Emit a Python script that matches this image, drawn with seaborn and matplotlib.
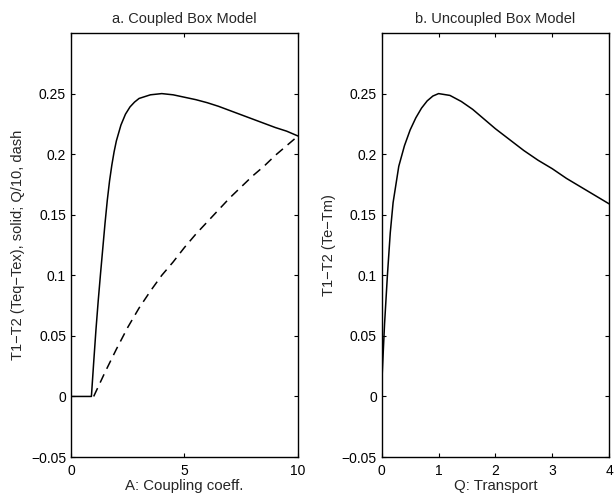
import numpy as np
import pandas as pd
import matplotlib
matplotlib.use("Agg")
import matplotlib.pyplot as plt
import seaborn as sns

# ──────────────────────────────────────────
# data
# ──────────────────────────────────────────
# panel a: coupled box model, solid = T1-T2
a_solid = [0.0, 0.9, 1.0, 1.1, 1.2, 1.3, 1.4, 1.5, 1.6, 1.7, 1.8, 1.9, 2.0,
           2.2, 2.4, 2.6, 2.8, 3.0, 3.5, 4.0, 4.5, 5.0, 5.5, 6.0, 6.5,
           7.0, 7.5, 8.0, 8.5, 9.0, 9.5, 10.0]
dT_coupled = [0.0, 0.0, 0.028, 0.055, 0.079, 0.101, 0.122, 0.143, 0.162,
              0.178, 0.191, 0.202, 0.211, 0.224, 0.233, 0.239, 0.243, 0.246,
              0.249, 0.250, 0.249, 0.247, 0.245, 0.2425, 0.2395, 0.236,
              0.2325, 0.229, 0.2255, 0.222, 0.219, 0.215]

# panel a: dashed = Q/10
a_dash = [1.0, 1.5, 2.0, 2.5, 3.0, 3.5, 4.0, 4.5, 5.0, 5.5, 6.0, 6.5,
          7.0, 7.5, 8.0, 8.5, 9.0, 9.5, 10.0]
q10_coupled = [0.0, 0.02, 0.039, 0.057, 0.073, 0.087, 0.100, 0.111, 0.123,
               0.134, 0.144, 0.154, 0.164, 0.173, 0.182, 0.190, 0.199,
               0.207, 0.215]

# panel b: uncoupled box model
q_transport = [0.0, 0.05, 0.1, 0.15, 0.2, 0.3, 0.4, 0.5, 0.6, 0.7, 0.8,
               0.9, 1.0, 1.2, 1.4, 1.6, 1.8, 2.0, 2.25, 2.5, 2.75, 3.0,
               3.25, 3.5, 3.75, 4.0]
dT_uncoupled = [0.01, 0.06, 0.10, 0.135, 0.16, 0.19, 0.207, 0.22,
                0.23, 0.238, 0.244, 0.248, 0.250, 0.2485, 0.2435, 0.237,
                0.229, 0.221, 0.212, 0.203, 0.195, 0.188, 0.180, 0.173,
                0.166, 0.159]

yticks = [-0.05, 0, 0.05, 0.1, 0.15, 0.2, 0.25]
ytick_labels = ["\u22120.05", "0", "0.05", "0.1", "0.15", "0.2", "0.25"]

# ──────────────────────────────────────────
# style
# ──────────────────────────────────────────
sns.set_style("ticks")
plt.rcParams["font.family"] = ["Liberation Sans", "DejaVu Sans"]
plt.rcParams["xtick.direction"] = "in"
plt.rcParams["ytick.direction"] = "in"
plt.rcParams["xtick.major.size"] = 3
plt.rcParams["ytick.major.size"] = 3
plt.rcParams["axes.linewidth"] = 1.0
plt.rcParams["axes.edgecolor"] = "black"
plt.rcParams["xtick.color"] = "black"
plt.rcParams["ytick.color"] = "black"

fig = plt.figure(figsize=(6.14, 4.93), dpi=100)
ax1 = fig.add_axes([0.1156, 0.073, 0.3697, 0.860])
ax2 = fig.add_axes([0.6217, 0.073, 0.3703, 0.860])

df_s = pd.DataFrame({"A": a_solid, "T": dT_coupled})
df_d = pd.DataFrame({"A": a_dash, "Q10": q10_coupled})
df_u = pd.DataFrame({"Q": q_transport, "T": dT_uncoupled})

sns.lineplot(data=df_s, x="A", y="T", ax=ax1, color="black", lw=1.1,
             sort=False, estimator=None)
sns.lineplot(data=df_d, x="A", y="Q10", ax=ax1, color="black", lw=1.1,
             sort=False, estimator=None)
ax1.lines[-1].set_dashes([6, 4])

sns.lineplot(data=df_u, x="Q", y="T", ax=ax2, color="black", lw=1.1,
             sort=False, estimator=None)

for ax in (ax1, ax2):
    ax.set_ylim(-0.05, 0.3)
    ax.set_yticks(yticks)
    ax.set_yticklabels(ytick_labels)
    ax.tick_params(top=True, right=True, labelsize=10)
    ax.tick_params(axis="x", pad=5)
    for sp in ax.spines.values():
        sp.set_visible(True)

ax1.set_xlim(0, 10)
ax1.set_xticks([0, 5, 10])
ax2.set_xlim(0, 4)
ax2.set_xticks([0, 1, 2, 3, 4])

ax1.set_title("a. Coupled Box Model", fontsize=10.5, pad=7)
ax2.set_title("b. Uncoupled Box Model", fontsize=10.5, pad=7)
ax1.set_xlabel("A: Coupling coeff.", fontsize=10.8, labelpad=1)
ax2.set_xlabel("Q: Transport", fontsize=10.8, labelpad=1)
ax1.set_ylabel("T1\u2212T2 (Teq\u2212Tex), solid; Q/10, dash", fontsize=10.5, labelpad=4)
ax2.set_ylabel("T1\u2212T2 (Te\u2212Tm)", fontsize=10.5, labelpad=4)

plt.savefig("out.png", dpi=100)
